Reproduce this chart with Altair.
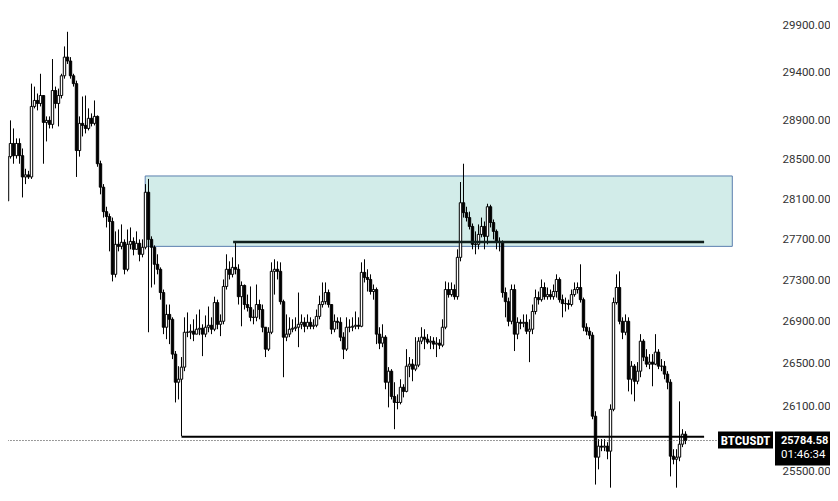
import altair as alt
import pandas as pd

# ---- candle data (BTCUSDT) ----
first_open = 28040
closes = [
    28055, 28084, 28530, 28664, 28540, 28664, 28540, 28324, 28345, 28324,
    29045, 29107, 29076, 29158, 28880, 28901, 28860, 29210, 29076, 29158,
    29364, 29560, 29519, 29364, 29282, 28592, 28870, 28849, 28818, 28922,
    28870, 28942, 28458, 28221, 27976, 27927, 27878, 27358, 27652, 27632,
    27672, 27407, 27652, 27681, 27603, 27662, 27554, 27623, 28170, 27701,
    27623, 27456, 27407, 27181, 26847, 26970, 26923, 26591, 26326, 26354,
    26468, 26799, 26799, 26809, 26781, 26828, 26837, 26781, 26847, 26866,
    26828, 27084, 26875, 26904, 27240, 27407, 27358, 27426, 27407, 27141,
    27250, 27065, 27036, 26942, 26942, 27065, 27017, 26847, 26638, 26799,
    27387, 27407, 27387, 27093, 26752, 26781, 26828, 26837, 26847, 26875,
    26894, 26856, 26894, 26856, 26866, 26951, 27065, 27093, 27181, 27065,
    26828, 26904, 26894, 26752, 26638, 26847, 26847, 26856, 26866, 26856,
    27377, 27328, 27308, 27191, 27210, 26781, 26695, 26752, 26326, 26430,
    26193, 26137, 26137, 26279, 26240, 26477, 26496, 26449, 26487, 26714,
    26752, 26733, 26705, 26714, 26686, 26695, 26676, 26847, 27210, 27161,
    27210, 27141, 27524, 28065, 27966, 27917, 27829, 27652, 27652, 27750,
    27829, 27731, 28025, 27868, 27780, 27681, 27672, 27181, 27093, 26904,
    27210, 26781, 26894, 26885, 26894, 26809, 26828, 26998, 27132, 27112,
    27230, 27141, 27161, 27141, 27191, 27308, 27112, 27074, 27074, 27065,
    27161, 27210, 27230, 27112, 26847, 26809, 26771, 26009, 25632, 25733,
    25724, 25733, 25687, 26073, 27084, 27230, 26904, 26799, 26904, 26354,
    26477, 26335, 26430, 26714, 26563, 26496, 26515, 26496, 26610, 26477,
    26477, 26402, 26326, 25641, 25613, 25632, 25751, 25843, 25784.58,
]
highs = [
    28149, 28170, 28561, 28901, 28818, 28716, 28716, 28613, 28407, 28386,
    29282, 29251, 29179, 29385, 29128, 28942, 28942, 29540, 29251, 29230,
    29385, 29673, 29828, 29560, 29385, 29313, 28942, 29148, 29158, 29025,
    28973, 29107, 28952, 28489, 28252, 28025, 27957, 27917, 27780, 27799,
    27849, 27701, 27799, 27819, 27721, 27780, 27701, 27701, 28252, 28304,
    27731, 27642, 27554, 27426, 27210, 27065, 27065, 26942, 26620, 26477,
    26563, 26942, 26989, 26875, 26923, 26970, 27017, 26875, 26960, 27046,
    26942, 27141, 27112, 26970, 27308, 27554, 27485, 27524, 27672, 27456,
    27289, 27259, 27161, 27240, 27017, 27259, 27112, 27065, 26847, 26847,
    27475, 27505, 27485, 27475, 27112, 26970, 26942, 26923, 26942, 27181,
    26970, 26942, 26970, 26942, 26923, 27017, 27151, 27279, 27279, 27210,
    27065, 26970, 26942, 26942, 26799, 26942, 26923, 26942, 26998, 26942,
    27475, 27505, 27407, 27358, 27259, 27230, 26847, 26875, 26771, 26468,
    26449, 26326, 26212, 26354, 26307, 26638, 26563, 26544, 26752, 26752,
    26847, 26828, 26781, 26762, 26752, 26752, 26733, 26923, 27289, 27279,
    27279, 27259, 27603, 28273, 28458, 28025, 27976, 27858, 27780, 27849,
    27917, 27878, 28055, 28045, 27898, 27799, 27721, 27691, 27230, 27132,
    27259, 27259, 26942, 26923, 26970, 26970, 26923, 27065, 27210, 27191,
    27308, 27279, 27230, 27210, 27259, 27358, 27328, 27161, 27132, 27112,
    27210, 27279, 27279, 27456, 27132, 26885, 26847, 26799, 26055, 25797,
    25797, 25797, 25769, 26119, 27132, 27358, 27387, 26942, 26970, 26942,
    26525, 26496, 26515, 26781, 26733, 26638, 26591, 26591, 26781, 26638,
    26544, 26525, 26430, 26354, 25705, 25705, 26147, 25889, 25870,
]
lows = [
    27947, 27878, 28045, 28510, 28458, 28510, 28458, 28118, 28252, 28304,
    28304, 29025, 29004, 29045, 28458, 28685, 28818, 28818, 29025, 28839,
    29128, 29334, 29488, 29334, 29251, 28324, 28530, 28736, 28767, 28798,
    28839, 28849, 28427, 28149, 27917, 27819, 27583, 27289, 27328, 27583,
    27603, 27358, 27387, 27603, 27544, 27603, 27485, 27524, 27603, 26799,
    27230, 27259, 27358, 27112, 26781, 26733, 26686, 26544, 26137, 26165,
    25825, 26430, 26752, 26733, 26714, 26781, 26771, 26572, 26752, 26799,
    26781, 26809, 26828, 26762, 26875, 27210, 27308, 27328, 27358, 27065,
    26856, 27017, 26998, 26904, 26875, 26904, 26923, 26799, 26563, 26620,
    26781, 27161, 27308, 27065, 26373, 26714, 26752, 26799, 26809, 26657,
    26828, 26799, 26828, 26828, 26828, 26847, 26923, 27036, 27065, 27036,
    26781, 26799, 26828, 26714, 26544, 26620, 26799, 26809, 26828, 26828,
    26847, 27279, 27191, 27161, 27112, 26686, 26638, 26657, 26260, 26091,
    26165, 25889, 26073, 26119, 26184, 26231, 26373, 26335, 26430, 26468,
    26686, 26638, 26686, 26638, 26638, 26563, 26638, 26657, 26828, 27132,
    27141, 27112, 27112, 27485, 27917, 27878, 27799, 27603, 27554, 27603,
    27721, 27603, 27652, 27819, 27701, 27603, 27583, 27132, 26942, 26856,
    26875, 26620, 26733, 26828, 26847, 26781, 26515, 26781, 26970, 27065,
    27093, 27112, 27112, 27112, 27112, 27132, 27084, 26942, 26998, 27017,
    27046, 27141, 27171, 27084, 26809, 26771, 26733, 25981, 25383, 25521,
    25687, 25687, 25613, 25355, 26055, 27065, 26875, 26733, 26771, 26240,
    26212, 26147, 26307, 26373, 26525, 26468, 26449, 26288, 26487, 26449,
    26430, 26354, 26260, 25457, 25567, 25355, 25595, 25724, 25751,
]

# ---- drawings (bar index / price) ----
zone_x = [47.9, 243.6]
zone_price = [28334, 27632]
resistance_x = [77.2, 234.2]
resistance_price = 27676
support_x = [60.0, 234.2]
support_price = 25820
last_price = 25784.58
price_line_x = [-1, 238.8]
symbol = "BTCUSDT"
last_price_text = "25784.58"
countdown_text = "01:46:34"
tick_values = [25500, 26100, 26500, 26900, 27300, 27700, 28100, 28500, 28900, 29400, 29900]

opens = [first_open] + closes[:-1]
df = pd.DataFrame({
    "i": list(range(len(closes))),
    "open": opens, "close": closes, "high": highs, "low": lows,
})
df["high"] = df[["high", "open", "close"]].max(axis=1)
df["low"] = df[["low", "open", "close"]].min(axis=1)
df["up"] = df["close"] >= df["open"]

W, H = 769, 481
xscale = alt.Scale(domain=[2.1667, 258.5], nice=False, zero=False, padding=0)
yscale = alt.Scale(type="log", domain=[25343, 30082], nice=False, zero=False, padding=0)
yaxis = alt.Axis(orient="right", values=tick_values, format=".2f",
                 labelFont="Roboto", labelFontSize=11.5, labelColor="#333333",
                 domain=False, ticks=False, grid=False, labelPadding=5,
                 title=None, labelBound=False, labelOverlap=False, labelFlush=False)


def X(f):
    return alt.X(f, type="quantitative", scale=xscale, axis=None)


def Y(f):
    return alt.Y(f, type="quantitative", scale=yscale, axis=yaxis)


zone_df = pd.DataFrame({"x1": [zone_x[0]], "x2": [zone_x[1]],
                        "p1": [zone_price[0]], "p2": [zone_price[1]]})
zone = alt.Chart(zone_df).mark_rect(fill="#d2ece9", stroke="#5a7fae", strokeWidth=1, clip=True).encode(
    x=X("x1"), x2="x2", y=Y("p1"), y2="p2",
)

wicks = alt.Chart(df).mark_rule(color="#000000", strokeWidth=1, clip=True).encode(
    x=X("i"), y=Y("low"), y2="high",
)

bodies = alt.Chart(df).mark_bar(size=2.4, stroke="#000000", strokeWidth=1, clip=True).encode(
    x=X("i"), y=Y("open"), y2="close",
    fill=alt.condition("datum.up", alt.value("#ffffff"), alt.value("#000000")),
)

res_df = pd.DataFrame({"x1": [resistance_x[0]], "x2": [resistance_x[1]], "p": [resistance_price]})
res = alt.Chart(res_df).mark_rule(color="#10201e", strokeWidth=2.5, clip=True).encode(
    x=X("x1"), x2="x2", y=Y("p"),
)

sup_df = pd.DataFrame({"x1": [support_x[0]], "x2": [support_x[1]], "p": [support_price]})
sup = alt.Chart(sup_df).mark_rule(color="#000000", strokeWidth=2, clip=True).encode(
    x=X("x1"), x2="x2", y=Y("p"),
)

pl_df = pd.DataFrame({"x1": [price_line_x[0]], "x2": [price_line_x[1]], "p": [last_price]})
pline = alt.Chart(pl_df).mark_rule(color="#333333", strokeWidth=1, strokeDash=[1, 2], clip=True).encode(
    x=X("x1"), x2="x2", y=Y("p"),
)

lab_df = pd.DataFrame({"p": [last_price], "sym": [symbol], "lp": [last_price_text], "cd": [countdown_text]})
sym_box = alt.Chart(lab_df).mark_rect(color="#000000", yOffset=-9, y2Offset=8).encode(
    x=alt.value(710), x2=alt.value(765), y=Y("p"), y2="p",
)
price_box = alt.Chart(lab_df).mark_rect(color="#000000", yOffset=-9, y2Offset=25).encode(
    x=alt.value(767), x2=alt.value(822), y=Y("p"), y2="p",
)
sym_text = alt.Chart(lab_df).mark_text(color="#ffffff", font="Liberation Sans Narrow, Roboto Condensed, Roboto",
                                       fontSize=13, fontWeight="bold", align="center", baseline="middle").encode(
    x=alt.value(737.5), y=Y("p"), text="sym:N",
)
lp_text = alt.Chart(lab_df).mark_text(color="#ffffff", font="Roboto", fontSize=11, fontWeight="bold",
                                      align="left", baseline="middle").encode(
    x=alt.value(773), y=Y("p"), text="lp:N",
)
cd_text = alt.Chart(lab_df).mark_text(color="#ffffff", font="Roboto", fontSize=11.5,
                                      align="left", baseline="middle", dy=14).encode(
    x=alt.value(773), y=Y("p"), text="cd:N",
)

chart = alt.layer(zone, wicks, bodies, res, sup, pline, sym_box, price_box, sym_text, lp_text, cd_text).properties(
    width=W, height=H,
    autosize=alt.AutoSizeParams(type="none"),
    padding={"left": 0, "top": 0, "right": 53, "bottom": 0},
    background="#ffffff",
).configure_view(stroke=None)

chart.save("out.html", embed_options={"renderer": "svg", "actions": False})
